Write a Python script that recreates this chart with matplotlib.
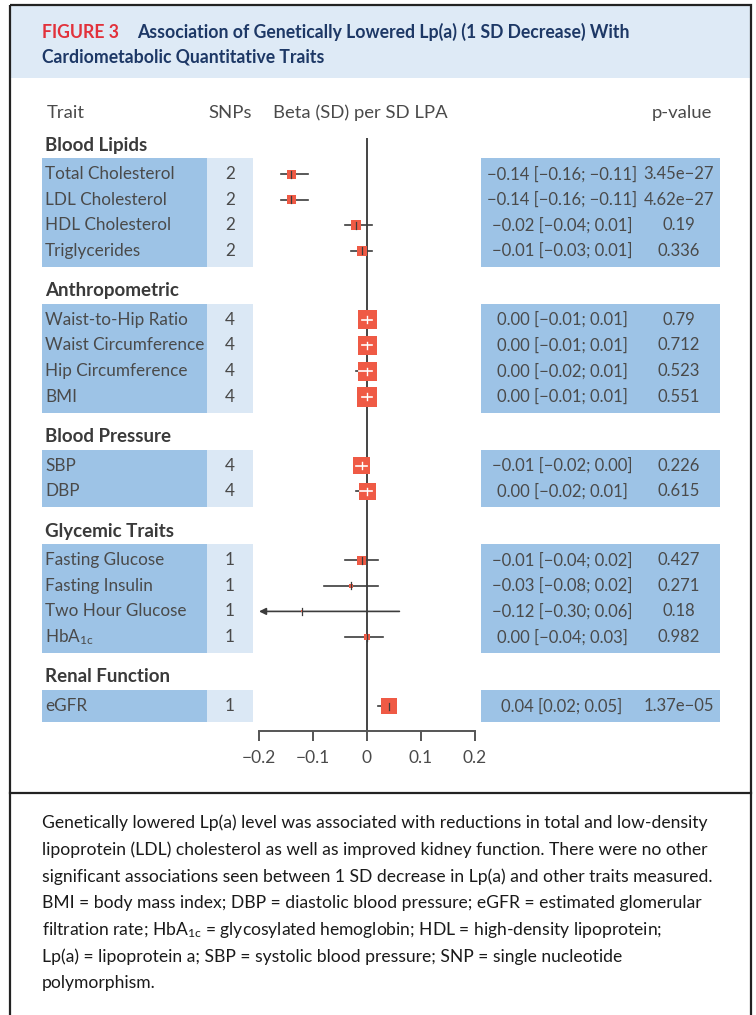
import matplotlib
matplotlib.use("Agg")
import matplotlib.pyplot as plt
from matplotlib.patches import Rectangle
from matplotlib import font_manager

# trait groups and per-trait results
groups = ["Blood Lipids", "Anthropometric", "Blood Pressure", "Glycemic Traits", "Renal Function"]
group_sizes = [4, 4, 2, 4, 1]
traits = ["Total Cholesterol", "LDL Cholesterol", "HDL Cholesterol", "Triglycerides",
          "Waist-to-Hip Ratio", "Waist Circumference", "Hip Circumference", "BMI",
          "SBP", "DBP",
          "Fasting Glucose", "Fasting Insulin", "Two Hour Glucose", "HbA1c",
          "eGFR"]
snps = [2, 2, 2, 2, 4, 4, 4, 4, 4, 4, 1, 1, 1, 1, 1]
beta = [-0.14, -0.14, -0.02, -0.01, 0.00, 0.00, 0.00, 0.00, -0.01, 0.00, -0.01, -0.03, -0.12, 0.00, 0.04]
ci_low = [-0.16, -0.16, -0.04, -0.03, -0.01, -0.01, -0.02, -0.01, -0.02, -0.02, -0.04, -0.08, -0.30, -0.04, 0.02]
ci_high = [-0.11, -0.11, 0.01, 0.01, 0.01, 0.01, 0.01, 0.01, 0.00, 0.01, 0.02, 0.02, 0.06, 0.03, 0.05]
pvals = ["3.45e-27", "4.62e-27", "0.19", "0.336", "0.79", "0.712", "0.523", "0.551",
         "0.226", "0.615", "0.427", "0.271", "0.18", "0.982", "1.37e-05"]
# relative weight of each estimate (drives box size)
weights = [9, 9, 10, 10, 19, 19, 19, 20, 17, 17, 9, 4, 2, 6, 16]
xticks = [-0.2, -0.1, 0, 0.1, 0.2]
xticklabels = ["\u22120.2", "\u22120.1", "0", "0.1", "0.2"]

caption = [
    "Genetically lowered Lp(a) level was associated with reductions in total and low-density",
    "lipoprotein (LDL) cholesterol as well as improved kidney function. There were no other",
    "significant associations seen between 1 SD decrease in Lp(a) and other traits measured.",
    "BMI = body mass index; DBP = diastolic blood pressure; eGFR = estimated glomerular",
    "filtration rate; HbA$_{1c}$ = glycosylated hemoglobin; HDL = high-density lipoprotein;",
    "Lp(a) = lipoprotein a; SBP = systolic blood pressure; SNP = single nucleotide",
    "polymorphism.",
]


def pick_font(names):
    for n in names:
        try:
            font_manager.findfont(n, fallback_to_default=False)
            return n
        except Exception:
            pass
    return "DejaVu Sans"


body_font = pick_font(["Lato", "Roboto", "Noto Sans"])
plt.rcParams["font.family"] = [body_font, "DejaVu Sans"]
plt.rcParams["mathtext.fontset"] = "custom"
plt.rcParams["mathtext.rm"] = body_font
plt.rcParams["mathtext.it"] = body_font

W, H = 756, 1015
fig = plt.figure(figsize=(W / 100, H / 100), dpi=100)
bg = fig.add_axes([0, 0, 1, 1])
bg.set_xlim(0, W)
bg.set_ylim(H, 0)
bg.axis("off")

txt = "#4a4a4a"
dark_cell = "#9dc3e6"
light_cell = "#dbe8f5"
box_col = "#ef5a45"
line_col = "#3c3c3c"

# frame, header band and separator
bg.add_patch(Rectangle((10, 6), 741, 72, facecolor="#deeaf6", edgecolor="none"))
bg.add_patch(Rectangle((10, 5), 741, 1020, facecolor="none", edgecolor="#222222", lw=1.6))
bg.plot([10, 751], [793, 793], color="#222222", lw=1.6)

bg.text(42, 32, "FIGURE 3", color="#e2313b", fontsize=12.7, fontweight="bold", va="center")
bg.text(137, 32, "Association of Genetically Lowered Lp(a) (1 SD Decrease) With",
        color="#1d3866", fontsize=12.7, fontweight="bold", va="center")
bg.text(42, 57, "Cardiometabolic Quantitative Traits",
        color="#1d3866", fontsize=12.7, fontweight="bold", va="center")

# column headers
hy = 113
bg.text(47, hy, "Trait", color=txt, fontsize=13.3, va="center")
bg.text(230, hy, "SNPs", color=txt, fontsize=13.3, va="center", ha="center")
bg.text(360, hy, "Beta (SD) per SD LPA", color=txt, fontsize=13.3, va="center", ha="center")
bg.text(712, hy, "p-value", color=txt, fontsize=13.3, va="center", ha="right")

# row layout
row_h = 25.6
row_y = []
header_y = []
y0 = 174
for n in group_sizes:
    header_y.append(y0 - 29)
    rows = [y0 + k * row_h for k in range(n)]
    row_y.extend(rows)
    y0 = rows[-1] + 69

idx = 0
for g, n, gy in zip(groups, group_sizes, header_y):
    bg.text(45, gy, g, color="#3a3a3a", fontsize=13.5, fontweight="bold", va="center")
    top = row_y[idx] - 16
    bot = row_y[idx + n - 1] + 16
    bg.add_patch(Rectangle((42, top), 165, bot - top, facecolor=dark_cell, edgecolor="none"))
    bg.add_patch(Rectangle((207, top), 46, bot - top, facecolor=light_cell, edgecolor="none"))
    bg.add_patch(Rectangle((481, top), 239, bot - top, facecolor=dark_cell, edgecolor="none"))
    idx += n


def fmt(v):
    return f"{v:.2f}".replace("-", "\u2212")


for i, y in enumerate(row_y):
    label = traits[i] if traits[i] != "HbA1c" else "HbA$_{1c}$"
    bg.text(45, y, label, color=txt, fontsize=12.3, va="center")
    bg.text(230, y, str(snps[i]), color=txt, fontsize=12.3, va="center", ha="center")
    est = f"{fmt(beta[i])} [{fmt(ci_low[i])}; {fmt(ci_high[i])}]"
    bg.text(562, y, est, color=txt, fontsize=12, va="center", ha="center")
    bg.text(679, y, pvals[i].replace("-", "\u2212"), color=txt, fontsize=12, va="center", ha="center")

# forest panel: x in beta units, y in row pixels
x_left, x_right, y_top, y_axis = 259, 475, 138, 731
ax = fig.add_axes([x_left / W, 1 - y_axis / H, (x_right - x_left) / W, (y_axis - y_top) / H])
ax.set_xlim(-0.2, 0.2)
ax.set_ylim(y_axis, y_top)
ax.patch.set_visible(False)
for s in ["top", "left", "right"]:
    ax.spines[s].set_visible(False)
ax.spines["bottom"].set_color("#555555")
ax.spines["bottom"].set_linewidth(1.4)
ax.set_yticks([])
ax.set_xticks(xticks)
ax.set_xticklabels(xticklabels)
ax.tick_params(axis="x", direction="out", length=7, width=1.4, color="#555555",
               labelsize=12.5, labelcolor=txt, pad=7)
ax.axvline(0, color="#444444", lw=1.4, zorder=1)

px_per_unit = (x_right - x_left) / 0.4
tol = 0.005
for i, y in enumerate(row_y):
    w = weights[i] / px_per_unit
    h = weights[i]
    lo, hi, b = ci_low[i], ci_high[i], beta[i]
    inside = (lo >= b - w / 2 - tol) and (hi <= b + w / 2 + tol)
    if lo < -0.2:
        ax.annotate("", xy=(-0.2, y), xytext=(hi, y),
                    arrowprops=dict(arrowstyle="-|>", color=line_col, lw=1.2,
                                    mutation_scale=10, shrinkA=0, shrinkB=0), zorder=2)
    else:
        ax.plot([lo, hi], [y, y], color=line_col, lw=1.2, zorder=2)
    ax.add_patch(Rectangle((b - w / 2, y - h / 2), w, h, facecolor=box_col,
                           edgecolor="none", zorder=3))
    if inside:
        seg_lo = max(lo, b - w / 2 + 0.002)
        seg_hi = min(hi, b + w / 2 - 0.002)
        ax.plot([seg_lo, seg_hi], [y, y], color="white", lw=1.2, zorder=4)
        ax.plot([b, b], [y - 3.5, y + 3.5], color="white", lw=1.0, zorder=4)
    else:
        ax.plot([b, b], [y - 3.5, y + 3.5], color=line_col, lw=0.9, zorder=4)

# caption
for k, line in enumerate(caption):
    bg.text(42, 823 + k * 26.7, line, color="#1a1a1a", fontsize=12.6, va="center")

fig.savefig("out.png", dpi=100)
